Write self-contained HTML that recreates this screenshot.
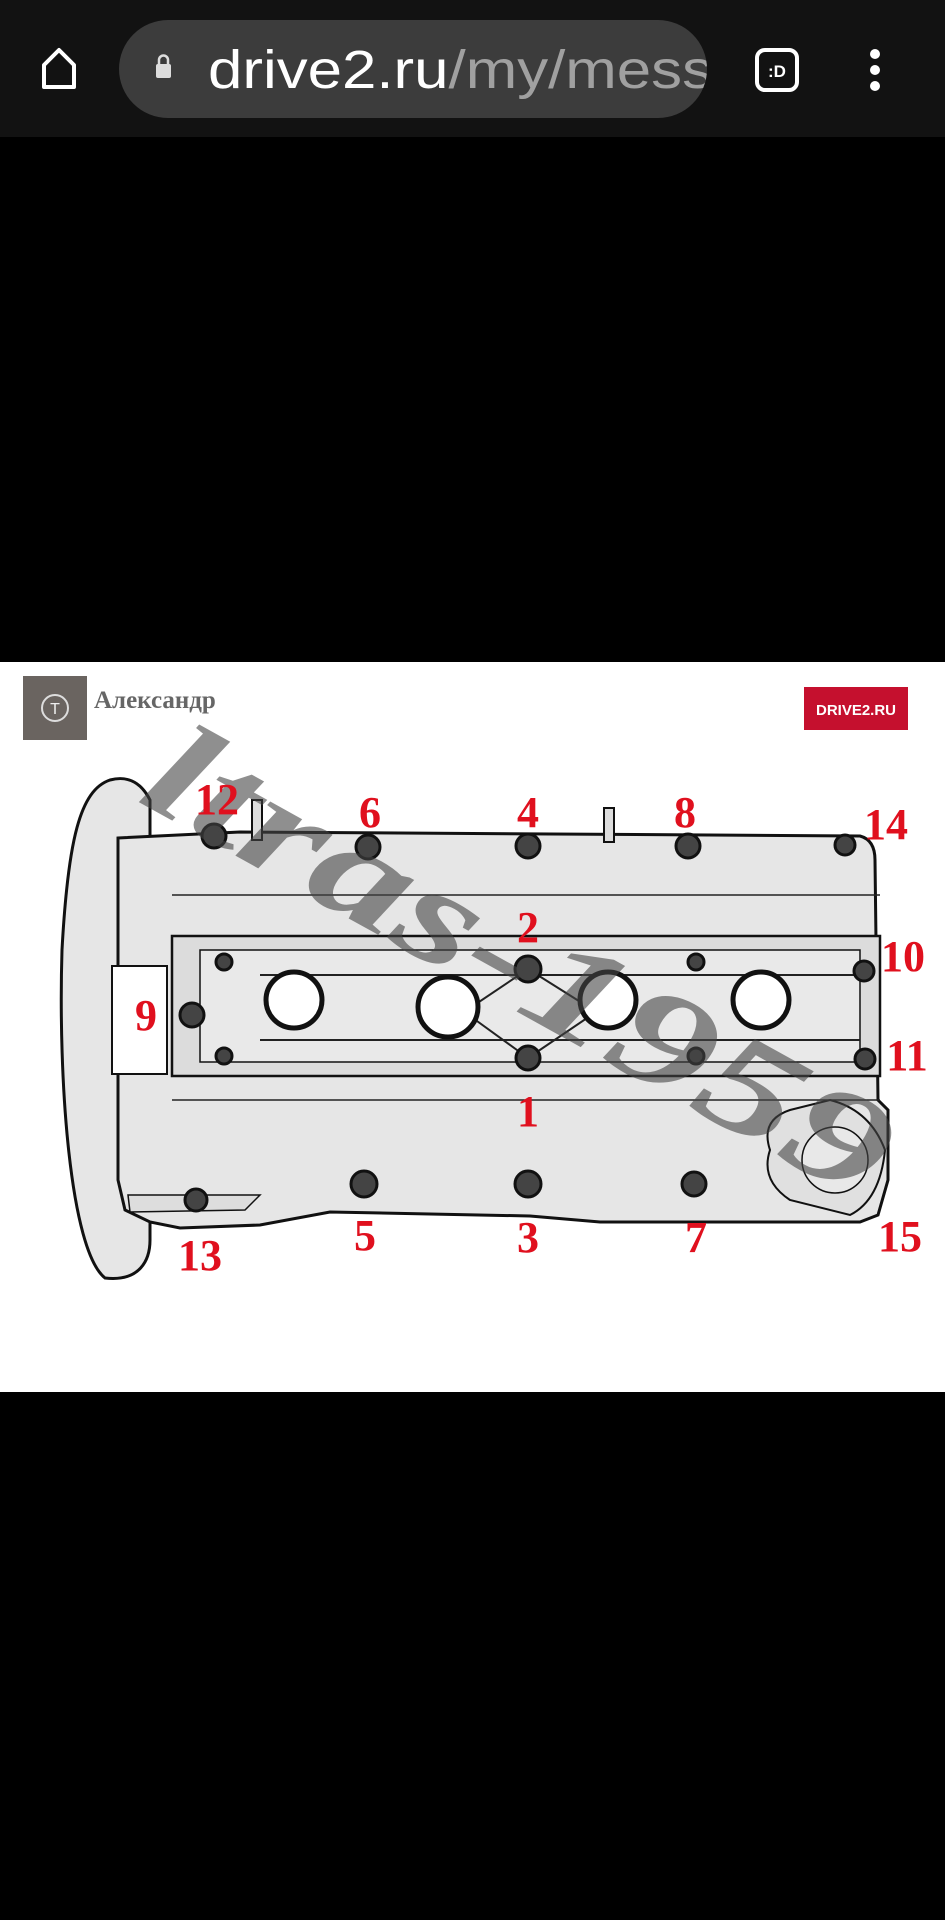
<!DOCTYPE html>
<html><head><meta charset="utf-8"><style>
html,body{margin:0;padding:0;background:#000;width:945px;height:1920px;overflow:hidden}
svg{display:block}
</style></head><body>
<svg width="945" height="1920" viewBox="0 0 945 1920" xmlns="http://www.w3.org/2000/svg">
<defs><clipPath id="pill"><rect x="119" y="20" width="588" height="98" rx="49"/></clipPath></defs>
<rect x="0" y="0" width="945" height="137" fill="#121212"/>
<path d="M59 50 L44 65 L44 87 L74 87 L74 65 Z" fill="none" stroke="#fff" stroke-width="4" stroke-linejoin="round"/>
<rect x="119" y="20" width="588" height="98" rx="49" fill="#3c3c3c"/>
<rect x="156" y="64" width="15" height="14" rx="2" fill="#ddd"/>
<path d="M159 65 v-5 a4.5 4.5 0 0 1 9 0 v5" fill="none" stroke="#ddd" stroke-width="2.5"/>
<g clip-path="url(#pill)">
<text x="208" y="88" font-family="Liberation Sans, sans-serif" font-size="54" fill="#fff" textLength="505" lengthAdjust="spacingAndGlyphs">drive2.ru<tspan fill="#a0a0a0">/my/mess</tspan></text>
</g>
<rect x="757" y="50" width="40" height="40" rx="8" fill="none" stroke="#fff" stroke-width="4"/>
<text x="777" y="77" text-anchor="middle" font-family="Liberation Sans, sans-serif" font-weight="bold" font-size="17" fill="#fff">:D</text>
<circle cx="875" cy="54" r="5" fill="#fff"/><circle cx="875" cy="70" r="5" fill="#fff"/><circle cx="875" cy="86" r="5" fill="#fff"/>

<rect x="0" y="662" width="945" height="730" fill="#fff"/>
<rect x="23" y="676" width="64" height="64" fill="#6a6460"/>
<circle cx="55" cy="708" r="13" fill="none" stroke="#ddd" stroke-width="2"/>
<text x="55" y="714" text-anchor="middle" font-family="Liberation Sans, sans-serif" font-size="16" fill="#eee">T</text>
<text x="94" y="708" font-family="Liberation Serif, serif" font-weight="bold" font-size="25" fill="#666">Александр</text>
<rect x="804" y="687" width="104" height="43" fill="#c5102e"/>
<text x="856" y="715" text-anchor="middle" font-family="Liberation Sans, sans-serif" font-weight="bold" font-size="15" fill="#fff">DRIVE2.RU</text>

<g stroke="#111" stroke-width="3" fill="#e6e6e6">
<path d="M110 780 C80 790 68 840 62 950 C58 1080 70 1250 105 1278 C140 1282 150 1260 150 1240 L150 800 C140 780 125 776 110 780 Z"/>
<path d="M118 838 L240 832 L860 836 Q875 840 875 860 L878 1100 L888 1110 L888 1180 L878 1215 L860 1222 L600 1222 L530 1216 L330 1212 L260 1225 L180 1228 L150 1222 L125 1210 L118 1180 Z"/>
<rect x="172" y="936" width="708" height="140" fill="#dcdcdc" stroke-width="2.5"/>
<path d="M200 950 L860 950 L860 1062 L200 1062 Z" fill="#e9e9e9" stroke-width="1.5"/>
<rect x="112" y="966" width="55" height="108" fill="#fff" stroke-width="2"/>
<path d="M790 1110 Q760 1120 770 1150 Q760 1180 790 1200 L850 1215 Q880 1200 885 1150 Q870 1110 830 1100 Z" fill="#e0e0e0" stroke-width="2"/>
<circle cx="835" cy="1160" r="33" fill="#e8e8e8" stroke-width="1.5"/>
<path d="M128 1195 L260 1195 L245 1210 L130 1212 Z" fill="#ddd" stroke-width="1.5"/>
<rect x="252" y="800" width="10" height="40" fill="#ddd" stroke-width="2"/>
<rect x="604" y="808" width="10" height="34" fill="#ddd" stroke-width="2"/>
</g>
<g stroke="#222" stroke-width="2" fill="none">
<line x1="260" y1="975" x2="860" y2="975"/><line x1="260" y1="1040" x2="860" y2="1040"/>
<line x1="528" y1="969" x2="470" y2="1008"/><line x1="528" y1="969" x2="590" y2="1008"/>
<line x1="528" y1="1058" x2="470" y2="1016"/><line x1="528" y1="1058" x2="590" y2="1016"/>
<line x1="172" y1="895" x2="880" y2="895" stroke-width="1.5"/>
<line x1="172" y1="1100" x2="880" y2="1100" stroke-width="1.5"/>
</g>
<g stroke="#111" stroke-width="5" fill="#fff">
<circle cx="294" cy="1000" r="28"/><circle cx="448" cy="1007" r="30"/><circle cx="608" cy="1000" r="28"/><circle cx="761" cy="1000" r="28"/>
</g>
<g fill="#444" stroke="#111" stroke-width="3">
<circle cx="214" cy="836" r="12"/><circle cx="368" cy="847" r="12"/><circle cx="528" cy="846" r="12"/><circle cx="688" cy="846" r="12"/><circle cx="845" cy="845" r="10"/>
<circle cx="528" cy="969" r="13"/><circle cx="864" cy="971" r="10"/><circle cx="192" cy="1015" r="12"/><circle cx="865" cy="1059" r="10"/><circle cx="528" cy="1058" r="12"/>
<circle cx="364" cy="1184" r="13"/><circle cx="528" cy="1184" r="13"/><circle cx="694" cy="1184" r="12"/><circle cx="196" cy="1200" r="11"/>
<circle cx="224" cy="962" r="8"/><circle cx="696" cy="962" r="8"/><circle cx="224" cy="1056" r="8"/><circle cx="696" cy="1056" r="8"/>
</g>
<text x="135" y="800" transform="rotate(29 135 800)" font-family="Liberation Serif, serif" font-style="italic" font-weight="bold" font-size="140" fill="#444" fill-opacity="0.6" textLength="830" lengthAdjust="spacingAndGlyphs">ltras-1959</text>
<g font-family="Liberation Serif, serif" font-weight="bold" font-size="44" fill="#e0101e" text-anchor="middle">
<text x="217" y="814">12</text><text x="370" y="827">6</text><text x="528" y="827">4</text><text x="685" y="827">8</text><text x="886" y="839">14</text>
<text x="528" y="942">2</text><text x="903" y="971">10</text><text x="146" y="1030">9</text><text x="907" y="1070">11</text>
<text x="528" y="1126">1</text><text x="365" y="1250">5</text><text x="528" y="1252">3</text><text x="696" y="1252">7</text><text x="200" y="1270">13</text><text x="900" y="1251">15</text>
</g>
</svg>
</body></html>
